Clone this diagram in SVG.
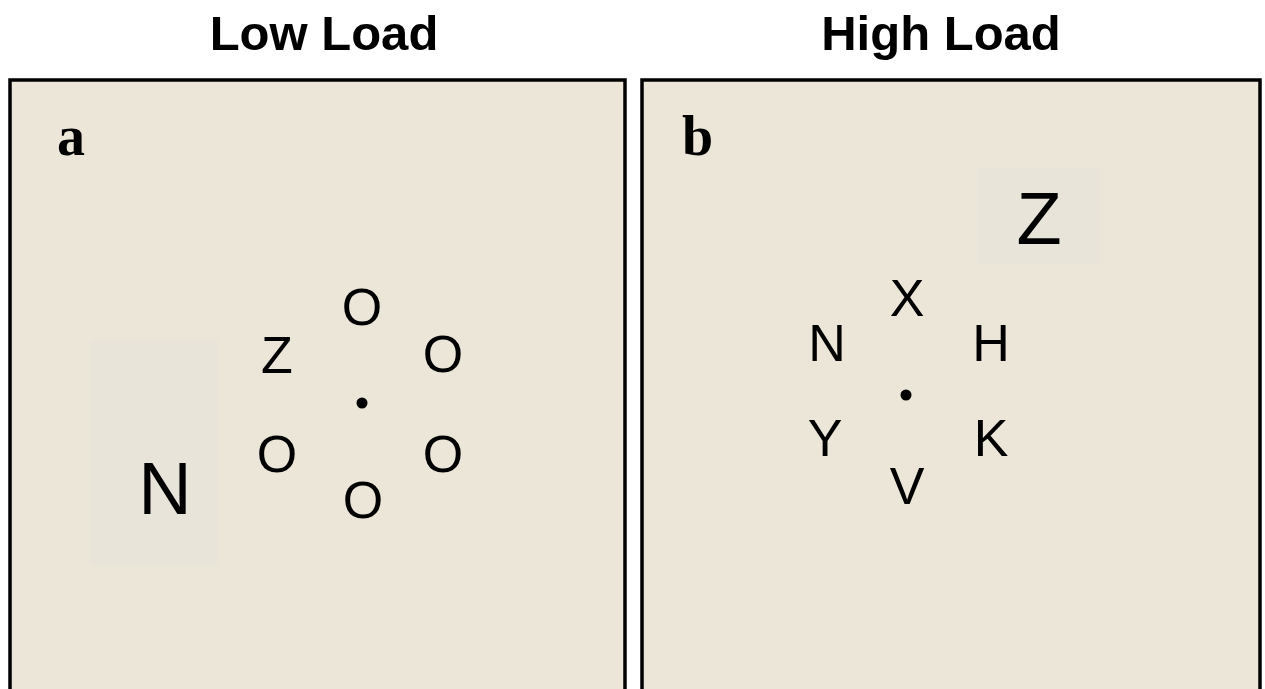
<svg xmlns="http://www.w3.org/2000/svg" width="1265" height="689" viewBox="0 0 1265 689">
  <style>
    .title { font-family: "Liberation Sans", Arial, sans-serif; font-weight: bold; font-size: 49px; fill: #000; text-anchor: middle; }
    .panel { fill: #ece6d8; stroke: #000; stroke-width: 3.5; }
    .patch { fill: #e9e4da; }
    .tag { font-family: "Liberation Serif", "Times New Roman", serif; font-weight: bold; font-size: 56px; fill: #000; }
    .ltr { font-family: "Liberation Sans", Arial, sans-serif; font-size: 52px; fill: #000; text-anchor: middle; }
    .big { font-family: "Liberation Sans", Arial, sans-serif; font-size: 74px; fill: #000; text-anchor: middle; }
    .fix { fill: #000; }
  </style>
  <rect width="1265" height="689" fill="#ffffff"/>

  <!-- column headings -->
  <text class="title" x="324" y="50">Low Load</text>
  <text class="title" x="941" y="50">High Load</text>

  <!-- panel a: low load display -->
  <g id="panel-a">
    <rect class="panel" x="10" y="80" width="615" height="640"/>
    <text class="tag" x="57" y="155">a</text>
    <rect class="patch" x="90" y="340" width="128" height="225"/>
    <text class="big" x="165" y="514">N</text>
    <g id="ring-a">
      <text class="ltr" x="362" y="325">O</text>
      <text class="ltr" x="277" y="373">Z</text>
      <text class="ltr" x="443" y="372">O</text>
      <text class="ltr" x="277" y="472">O</text>
      <text class="ltr" x="443" y="472">O</text>
      <text class="ltr" x="363" y="518">O</text>
      <circle class="fix" cx="362" cy="403" r="5.5"/>
    </g>
  </g>

  <!-- panel b: high load display -->
  <g id="panel-b">
    <rect class="panel" x="642" y="80" width="618" height="640"/>
    <text class="tag" x="682" y="155">b</text>
    <rect class="patch" x="977" y="168" width="123" height="97"/>
    <text class="big" x="1039" y="244">Z</text>
    <g id="ring-b">
      <text class="ltr" x="907" y="316">X</text>
      <text class="ltr" x="827" y="361">N</text>
      <text class="ltr" x="991" y="361">H</text>
      <text class="ltr" x="825" y="456">Y</text>
      <text class="ltr" x="991" y="456">K</text>
      <text class="ltr" x="907" y="504">V</text>
      <circle class="fix" cx="906" cy="395" r="5.5"/>
    </g>
  </g>
</svg>
